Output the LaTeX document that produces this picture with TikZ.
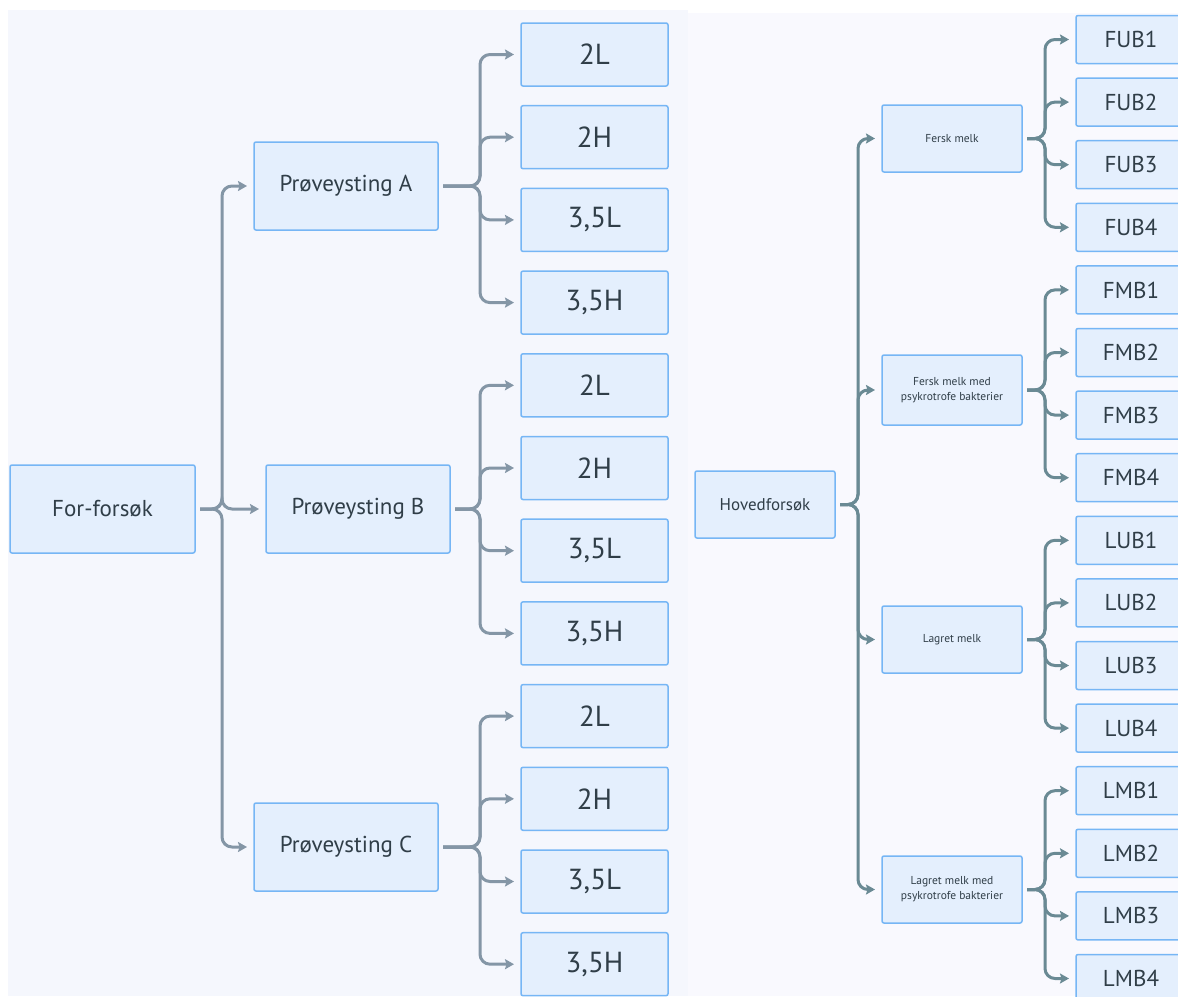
\documentclass[tikz,border=0pt]{standalone}
\usepackage{fontspec}
\setmainfont{PT Sans}
\usepackage{xcolor}
\usepackage{tikz}
\usetikzlibrary{arrows.meta, positioning}
\definecolor{panelleft}{RGB}{245, 247, 253}
\definecolor{panelright}{RGB}{249, 249, 254}
\definecolor{boxfill}{RGB}{228, 239, 253}
\definecolor{boxline}{RGB}{118, 182, 245}
\definecolor{inktext}{RGB}{48, 62, 72}
\definecolor{linkgrey}{RGB}{132, 150, 166}
\definecolor{linkteal}{RGB}{106, 138, 148}

\begin{document}
\begin{tikzpicture}[
    x=1pt, y=1pt,
    box/.style={rectangle, rounded corners=2pt, draw=boxline, line width=1.5pt, fill=boxfill, text=inktext, align=center, inner sep=0pt, outer sep=0pt},
    rootbox/.style={box, minimum width=185pt, minimum height=88pt, font=\fontsize{23}{27}\selectfont},
    trialbox/.style={box, minimum width=184pt, minimum height=88pt, font=\fontsize{23}{27}\selectfont},
    leafbox/.style={box, minimum width=147pt, minimum height=63pt, font=\fontsize{29}{33}\selectfont},
    mainbox/.style={box, minimum width=140pt, minimum height=67pt, font=\fontsize{17}{20}\selectfont},
    milkbox/.style={box, minimum width=140pt, minimum height=67pt, font=\fontsize{11.5}{15}\selectfont},
    codebox/.style={box, minimum width=110pt, minimum height=48pt, font=\fontsize{23}{27}\selectfont},
    link/.style={draw=linkgrey, line width=3pt, rounded corners=10pt, -{Stealth[length=9pt, width=10pt, inset=1.5pt]}, shorten <=5pt, shorten >=7pt},
    linkr/.style={link, draw=linkteal}
]
\clip (0,0) rectangle (1178,-996);
\fill[white] (0,0) rectangle (1178,-996);
\fill[panelleft] (8,-10) rectangle (688,-996);
\fill[panelright] (688,-13) rectangle (1178,-996);

% For-forsøk
\node[rootbox] (ff) at (102.5,-509) {For-forsøk};
\node[trialbox] (pa) at (346,-186) {Prøveysting A};
\node[trialbox] (pb) at (358,-509) {Prøveysting B};
\node[trialbox] (pc) at (346,-847) {Prøveysting C};

\node[leafbox] (a1) at (594.5,-54.5) {2L};
\node[leafbox, below=19.7pt of a1] (a2) {2H};
\node[leafbox, below=19.7pt of a2] (a3) {3,5L};
\node[leafbox, below=19.7pt of a3] (a4) {3,5H};
\node[leafbox, below=19.7pt of a4] (b1) {2L};
\node[leafbox, below=19.7pt of b1] (b2) {2H};
\node[leafbox, below=19.7pt of b2] (b3) {3,5L};
\node[leafbox, below=19.7pt of b3] (b4) {3,5H};
\node[leafbox, below=19.7pt of b4] (c1) {2L};
\node[leafbox, below=19.7pt of c1] (c2) {2H};
\node[leafbox, below=19.7pt of c2] (c3) {3,5L};
\node[leafbox, below=19.7pt of c3] (c4) {3,5H};

\draw[link] (ff.east) -- ++(27,0) |- (pa.west);
\draw[link] (ff.east) -- ++(27,0) |- (pb.west);
\draw[link] (ff.east) -- ++(27,0) |- (pc.west);

\draw[link] (pa.east) -- ++(42,0) |- (a1.west);
\draw[link] (pa.east) -- ++(42,0) |- (a2.west);
\draw[link] (pa.east) -- ++(42,0) |- (a3.west);
\draw[link] (pa.east) -- ++(42,0) |- (a4.west);

\draw[link] (pb.east) -- ++(30,0) |- (b1.west);
\draw[link] (pb.east) -- ++(30,0) |- (b2.west);
\draw[link] (pb.east) -- ++(30,0) |- (b3.west);
\draw[link] (pb.east) -- ++(30,0) |- (b4.west);

\draw[link] (pc.east) -- ++(42,0) |- (c1.west);
\draw[link] (pc.east) -- ++(42,0) |- (c2.west);
\draw[link] (pc.east) -- ++(42,0) |- (c3.west);
\draw[link] (pc.east) -- ++(42,0) |- (c4.west);

% Hovedforsøk
\node[mainbox] (hf) at (765,-504.5) {Hovedforsøk};
\node[milkbox] (fm) at (952,-138.5) {Fersk melk};
\node[milkbox, minimum height=70pt] (fb) at (952,-390) {Fersk melk med\\psykrotrofe bakterier};
\node[milkbox] (lm) at (952,-639.5) {Lagret melk};
\node[milkbox] (lb) at (952,-889.5) {Lagret melk med\\psykrotrofe bakterier};

\node[codebox] (fub1) at (1131,-39.5) {FUB1};
\node[codebox, below=14.6pt of fub1] (fub2) {FUB2};
\node[codebox, below=14.6pt of fub2] (fub3) {FUB3};
\node[codebox, below=14.6pt of fub3] (fub4) {FUB4};
\node[codebox, below=14.6pt of fub4] (fmb1) {FMB1};
\node[codebox, below=14.6pt of fmb1] (fmb2) {FMB2};
\node[codebox, below=14.6pt of fmb2] (fmb3) {FMB3};
\node[codebox, below=14.6pt of fmb3] (fmb4) {FMB4};
\node[codebox, below=14.6pt of fmb4] (lub1) {LUB1};
\node[codebox, below=14.6pt of lub1] (lub2) {LUB2};
\node[codebox, below=14.6pt of lub2] (lub3) {LUB3};
\node[codebox, below=14.6pt of lub3] (lub4) {LUB4};
\node[codebox, below=14.6pt of lub4] (lmb1) {LMB1};
\node[codebox, below=14.6pt of lmb1] (lmb2) {LMB2};
\node[codebox, below=14.6pt of lmb2] (lmb3) {LMB3};
\node[codebox, below=14.6pt of lmb3] (lmb4) {LMB4};

\draw[linkr] (hf.east) -- ++(23,0) |- (fm.west);
\draw[linkr] (hf.east) -- ++(23,0) |- (fb.west);
\draw[linkr] (hf.east) -- ++(23,0) |- (lm.west);
\draw[linkr] (hf.east) -- ++(23,0) |- (lb.west);

\draw[linkr] (fm.east) -- ++(23,0) |- (fub1.west);
\draw[linkr] (fm.east) -- ++(23,0) |- (fub2.west);
\draw[linkr] (fm.east) -- ++(23,0) |- (fub3.west);
\draw[linkr] (fm.east) -- ++(23,0) |- (fub4.west);

\draw[linkr] (fb.east) -- ++(23,0) |- (fmb1.west);
\draw[linkr] (fb.east) -- ++(23,0) |- (fmb2.west);
\draw[linkr] (fb.east) -- ++(23,0) |- (fmb3.west);
\draw[linkr] (fb.east) -- ++(23,0) |- (fmb4.west);

\draw[linkr] (lm.east) -- ++(23,0) |- (lub1.west);
\draw[linkr] (lm.east) -- ++(23,0) |- (lub2.west);
\draw[linkr] (lm.east) -- ++(23,0) |- (lub3.west);
\draw[linkr] (lm.east) -- ++(23,0) |- (lub4.west);

\draw[linkr] (lb.east) -- ++(23,0) |- (lmb1.west);
\draw[linkr] (lb.east) -- ++(23,0) |- (lmb2.west);
\draw[linkr] (lb.east) -- ++(23,0) |- (lmb3.west);
\draw[linkr] (lb.east) -- ++(23,0) |- (lmb4.west);

\end{tikzpicture}
\end{document}
